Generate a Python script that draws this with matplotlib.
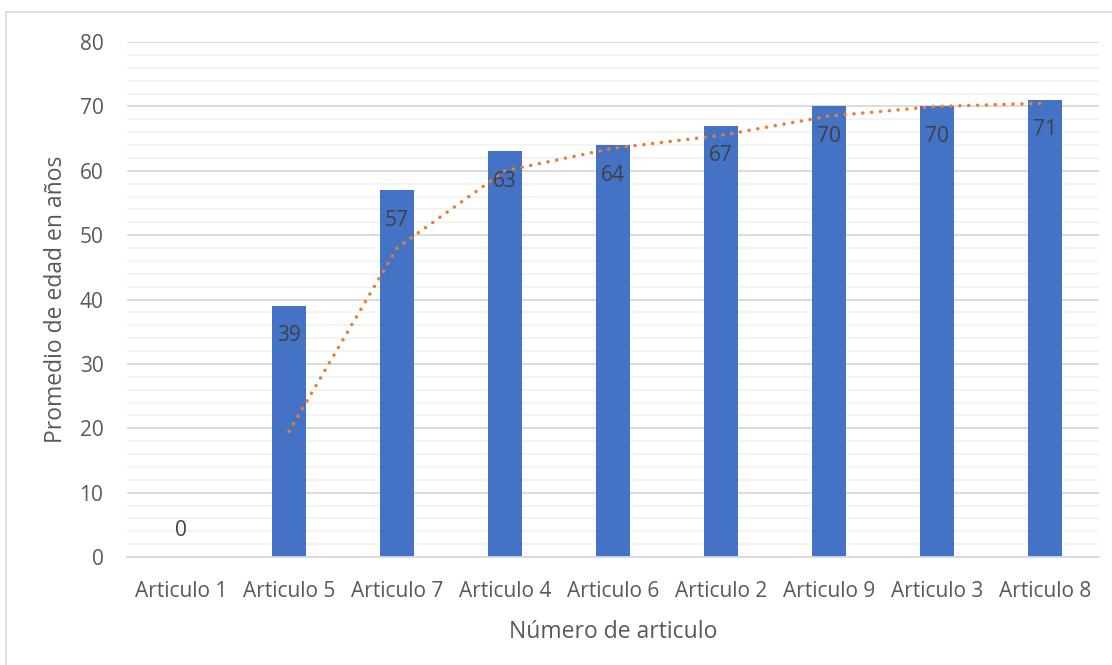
import numpy as np
import matplotlib.pyplot as plt
from matplotlib.patches import Rectangle

plt.rcParams['font.family'] = ['Open Sans', 'DejaVu Sans']

articulos = ["Articulo 1", "Articulo 5", "Articulo 7", "Articulo 4", "Articulo 6",
             "Articulo 2", "Articulo 9", "Articulo 3", "Articulo 8"]
edades = [0, 39, 57, 63, 64, 67, 70, 70, 71]

bar_color = "#4472C4"
trend_color = "#ED7D31"
text_color = "#595959"

fig = plt.figure(figsize=(11.12, 6.65), dpi=100)
ax = fig.add_axes([0.1142, 0.1624, 0.8741, 0.7744])

x = np.arange(len(articulos))
ax.bar(x, edades, width=0.31, color=bar_color, zorder=2)

# media movil de 2 periodos
mm = [(edades[i - 1] + edades[i]) / 2 for i in range(1, len(edades))]
ax.plot(x[1:], mm, color=trend_color, lw=2.5, linestyle=(0, (0.05, 2.5)),
        dash_capstyle='round', zorder=3)

for xi, v in zip(x, edades):
    off = -30 if v > 0 else 27
    ax.annotate(str(v), (xi, v), xytext=(0, off), textcoords='offset pixels',
                ha='center', va='center', fontsize=15, color="#404040", zorder=4)

ax.set_xlim(-0.5, len(articulos) - 0.5)
ax.set_ylim(0, 80)
ax.set_yticks(range(0, 81, 10))
ax.set_yticks(range(0, 81, 2), minor=True)
ax.set_xticks(x)
ax.set_xticklabels(articulos)
ax.grid(axis='y', which='major', color="#D9D9D9", lw=1.3, zorder=0)
ax.grid(axis='y', which='minor', color="#F2F2F2", lw=1.3, zorder=0)
ax.tick_params(axis='both', which='both', length=0, labelsize=15, colors=text_color)
ax.tick_params(axis='y', pad=17)
ax.tick_params(axis='x', pad=17)
for s in ['top', 'right', 'left']:
    ax.spines[s].set_visible(False)
ax.spines['bottom'].set_color("#D9D9D9")
ax.spines['bottom'].set_linewidth(1.3)

ax.set_xlabel("Número de articulo", fontsize=16.5, color=text_color, labelpad=13)
ax.set_ylabel("Promedio de edad en años", fontsize=16.5, color=text_color, labelpad=8)

fig.patches.append(Rectangle((6 / 1112, -0.05), 1.1, 1 - 12 / 665 + 0.05,
                             transform=fig.transFigure, fill=False,
                             edgecolor="#D9D9D9", lw=1.2))

fig.savefig("out.png", dpi=100)
